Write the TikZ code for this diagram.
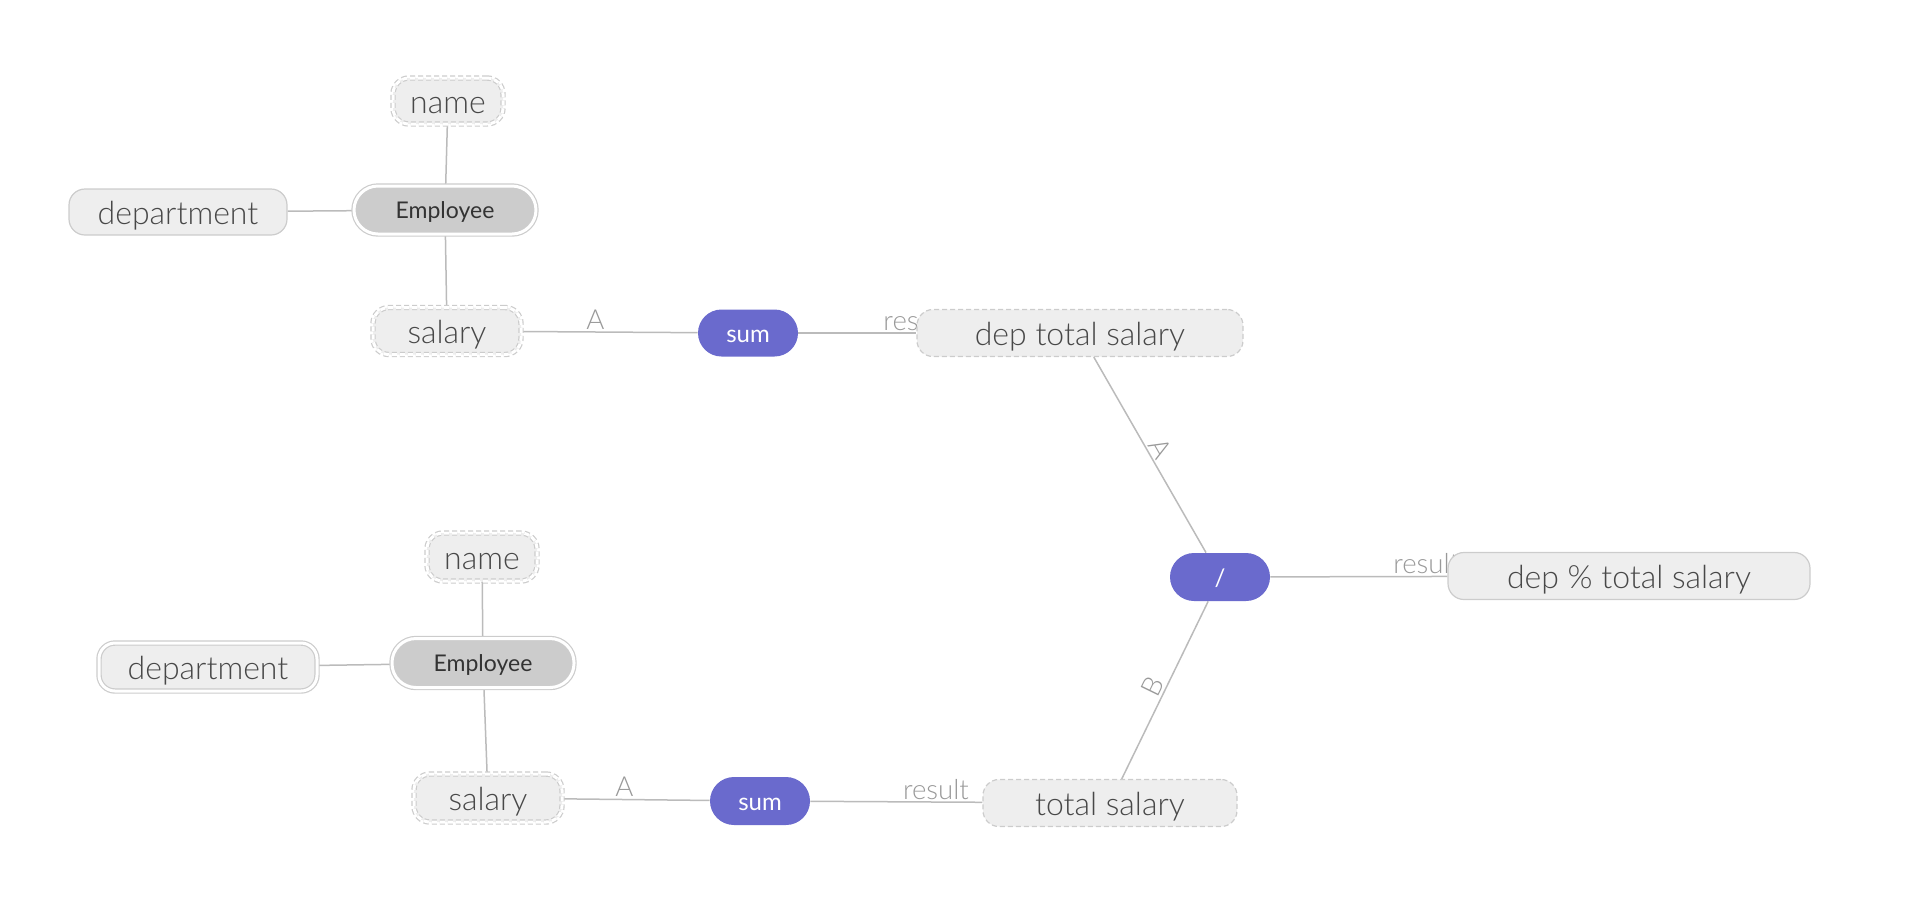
\documentclass[tikz,border=0pt]{standalone}
\usepackage{fontspec}
\setmainfont{Lato}[UprightFont=* Light]
\newfontfamily\latoregular{Lato}
\usetikzlibrary{backgrounds}
\definecolor{fieldfill}{HTML}{EEEEEE}
\definecolor{fieldline}{HTML}{CCCCCC}
\definecolor{fieldtext}{HTML}{484848}
\definecolor{entityfill}{HTML}{CCCCCC}
\definecolor{opfill}{HTML}{6A6ACD}
\definecolor{linkline}{HTML}{BBBBBB}
\definecolor{linktext}{HTML}{999999}
\begin{document}
\begin{tikzpicture}[x=0.5pt, y=-0.5pt,
    field/.style={draw=fieldline, fill=fieldfill, text=fieldtext, line width=0.6pt,
      rounded corners=8pt, minimum height=23.5pt, inner sep=0pt,
      text height=15.8pt, text depth=3.4pt,
      font=\fontsize{16}{19}\selectfont},
    calc/.style={field, dash pattern=on 2.5pt off 1.5pt},
    twin/.style={double=white, double distance=1.5pt},
    entity/.style={field, twin, fill=entityfill, text=black!80, rounded corners=12pt,
      minimum height=24pt, text height=11.35pt, text depth=2.45pt,
      font=\latoregular\fontsize{11.5}{14}\selectfont},
    op/.style={fill=opfill, text=white, rounded corners=11.75pt, minimum width=50pt,
      minimum height=23.5pt, inner sep=0pt, text height=11.85pt, text depth=2.55pt,
      font=\latoregular\fontsize{12}{14}\selectfont},
    link/.style={draw=linkline, line width=0.75pt},
    tag/.style={text=linktext, inner sep=1pt, font=\fontsize{13.8}{16}\selectfont}]
    \useasboundingbox (0,0) rectangle (1916,918);
    % Employee (top)
    \node[calc, twin, minimum width=55pt, minimum height=23pt] (name1) at (448,101) {name};
    \node[entity, minimum width=91pt] (emp1) at (445,210) {Employee};
    \node[field, minimum width=109pt, minimum height=23pt] (dept1) at (178,212) {department};
    \node[calc, twin, minimum width=74pt] (sal1) at (447,331) {salary};
    \node[op] (sum1) at (748,333) {sum};
    \node[calc, minimum width=163pt] (dts) at (1080,333) {dep total salary};
    % Division
    \node[op, minimum height=24pt, rounded corners=12pt] (div) at (1220,577) {/};
    \node[field, minimum width=181pt] (dpts) at (1629,576) {dep \% total salary};
    % Employee (bottom)
    \node[calc, twin, minimum width=55pt, minimum height=24pt] (name2) at (482,557) {name};
    \node[entity, minimum width=91pt, minimum height=24.5pt] (emp2) at (483,663) {Employee};
    \node[field, twin, minimum width=109pt, minimum height=24pt] (dept2) at (208,667) {department};
    \node[calc, twin, minimum width=74pt, minimum height=24pt] (sal2) at (488,798) {salary};
    \node[op, minimum height=24pt, rounded corners=12pt] (sum2) at (760,801) {sum};
    \node[calc, minimum width=127pt] (ts) at (1110,803) {total salary};
    % Links
    \begin{scope}[on background layer]
      \draw[link] (name1) -- (emp1);
      \draw[link] (dept1) -- (emp1);
      \draw[link] (emp1) -- (sal1);
      \draw[link] (sal1) -- node[tag, pos=0.42, above] {A} (sum1);
      \draw[link] (sum1) -- node[tag, pos=1, above] {result} (dts);
      \draw[link] (dts) -- node[tag, pos=0.5, sloped, above] {A} (div);
      \draw[link] (ts) -- node[tag, pos=0.49, sloped, above] {B} (div);
      \draw[link] (div) -- node[tag, pos=0.88, above] {result} (dpts);
      \draw[link] (name2) -- (emp2);
      \draw[link] (dept2) -- (emp2);
      \draw[link] (emp2) -- (sal2);
      \draw[link] (sal2) -- node[tag, pos=0.42, above] {A} (sum2);
      \draw[link] (sum2) -- node[tag, pos=0.73, above] {result} (ts);
    \end{scope}
\end{tikzpicture}
\end{document}
